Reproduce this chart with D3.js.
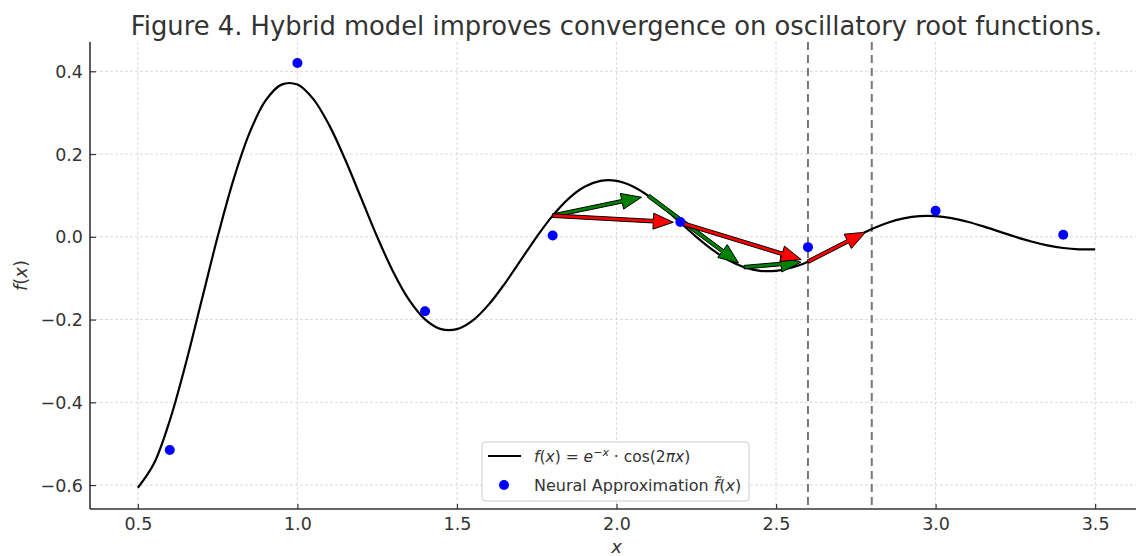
<!DOCTYPE html>
<html>
<head>
<meta charset="utf-8">
<script src="https://cdn.jsdelivr.net/npm/d3@7"></script>
<style>
  body { margin: 0; background: #fff; }
  svg { display: block; overflow: hidden; font-family: "DejaVu Sans", sans-serif; }
  .grid line { stroke: #d0d0d0; stroke-width: 0.8; stroke-dasharray: 3,2; }
  .domain { stroke: #333; stroke-width: 1.6; }
  .tick line { stroke: #333; stroke-width: 1.2; }
</style>
</head>
<body>
<div id="chart"></div>
<script>
// curve f(x) = e^-x * cos(2 pi x), sampled every 0.05
var curveX = [0.50,0.55,0.60,0.65,0.70,0.75,0.80,0.85,0.90,0.95,1.00,1.05,1.10,1.15,1.20,1.25,1.30,1.35,1.40,1.45,
  1.50,1.55,1.60,1.65,1.70,1.75,1.80,1.85,1.90,1.95,2.00,2.05,2.10,2.15,2.20,2.25,2.30,2.35,2.40,2.45,
  2.50,2.55,2.60,2.65,2.70,2.75,2.80,2.85,2.90,2.95,3.00,3.05,3.10,3.15,3.20,3.25,3.30,3.35,3.40,3.45,3.50];
var curveY = [-0.6065,-0.5487,-0.4440,-0.3069,-0.1535,0.0000,0.1389,0.2512,0.3289,0.3678,0.3679,0.3328,0.2693,0.1861,0.0931,0.0000,-0.0842,-0.1524,-0.1995,-0.2231,
  -0.2231,-0.2019,-0.1633,-0.1129,-0.0565,0.0000,0.0511,0.0924,0.1210,0.1353,0.1353,0.1224,0.0991,0.0685,0.0342,0.0000,-0.0310,-0.0561,-0.0734,-0.0821,
  -0.0821,-0.0743,-0.0601,-0.0415,-0.0208,0.0000,0.0188,0.0340,0.0445,0.0498,0.0498,0.0450,0.0364,0.0252,0.0126,0.0000,-0.0114,-0.0206,-0.0270,-0.0302,-0.0302];

// neural approximation points
var nnX = [0.6, 1.0, 1.4, 1.8, 2.2, 2.6, 3.0, 3.4];
var nnY = [-0.515, 0.42, -0.18, 0.003, 0.036, -0.025, 0.063, 0.005];

// iteration paths
var greenX = [1.8, 2.1, 2.4, 2.6];
var greenY = [0.0511, 0.0991, -0.0734, -0.0601];
var redX = [1.8, 2.2, 2.6, 2.8];
var redY = [0.0511, 0.0342, -0.0601, 0.0188];

var vlines = [2.6, 2.8];

var xTicks = [0.5, 1.0, 1.5, 2.0, 2.5, 3.0, 3.5];
var yTicks = [-0.6, -0.4, -0.2, 0.0, 0.2, 0.4];

var width = 1136, height = 556;
var svg = d3.select("#chart").append("svg")
  .attr("width", width).attr("height", height);

var mLeft = 90, mTop = 42, mRight = 1143, mBottom = 509;
var x = d3.scaleLinear().domain([0.35, 3.65]).range([mLeft, mRight]);
var y = d3.scaleLinear().domain([-0.6578, 0.4708]).range([mBottom, mTop]);

// grid
var grid = svg.append("g").attr("class", "grid");
grid.selectAll(".gx").data(xTicks).enter().append("line")
  .attr("x1", d => x(d)).attr("x2", d => x(d)).attr("y1", mTop).attr("y2", mBottom);
grid.selectAll(".gy").data(yTicks).enter().append("line")
  .attr("x1", mLeft).attr("x2", mRight).attr("y1", d => y(d)).attr("y2", d => y(d));

// axes (ticks point inward, labels placed by padding)
var xAxis = svg.append("g").attr("transform", "translate(0," + mBottom + ")")
  .call(d3.axisBottom(x).tickValues(xTicks).tickFormat(d3.format(".1f")).tickSizeInner(-5).tickSizeOuter(0).tickPadding(9));
xAxis.select(".domain").attr("d", "M" + mLeft + ",0H" + mRight);
var yAxis = svg.append("g").attr("transform", "translate(" + mLeft + ",0)")
  .call(d3.axisLeft(y).tickValues(yTicks).tickSizeInner(-6).tickSizeOuter(0).tickPadding(7)
    .tickFormat(d => d3.format(".1f")(d).replace("-", "\u2212")));
yAxis.select(".domain").attr("d", "M0," + mTop + "V" + mBottom);
[xAxis, yAxis].forEach(function (a) {
  a.attr("font-size", 17.5).attr("font-family", "DejaVu Sans");
  a.selectAll(".tick text").attr("fill", "#333");
});
xAxis.selectAll(".tick text").attr("dy", "0.71em");
yAxis.selectAll(".tick text").attr("dy", "0.35em");

// dashed vertical lines
svg.selectAll(".vline").data(vlines).enter().append("line")
  .attr("x1", d => x(d)).attr("x2", d => x(d)).attr("y1", mTop).attr("y2", mBottom)
  .attr("stroke", "#777").attr("stroke-width", 2).attr("stroke-dasharray", "8,5");

// curve
var line = d3.line().x(d => x(d[0])).y(d => y(d[1])).curve(d3.curveCatmullRom);
svg.append("path").datum(d3.zip(curveX, curveY))
  .attr("d", line).attr("fill", "none").attr("stroke", "#000").attr("stroke-width", 2.2);

// arrows drawn in pixel space
function arrowPoly(x0, y0, x1, y1) {
  var dx = x1 - x0, dy = y1 - y0, len = Math.sqrt(dx * dx + dy * dy);
  var ux = dx / len, uy = dy / len, nx = -uy, ny = ux;
  var L = len - 7, hl = 20, hw = 8, sw = 1.8;
  var bx = x0 + ux * (L - hl), by = y0 + uy * (L - hl);
  var tx = x0 + ux * L, ty = y0 + uy * L;
  var p = [
    [x0 + nx * sw, y0 + ny * sw], [bx + nx * sw, by + ny * sw], [bx + nx * hw, by + ny * hw],
    [tx, ty],
    [bx - nx * hw, by - ny * hw], [bx - nx * sw, by - ny * sw], [x0 - nx * sw, y0 - ny * sw]
  ];
  return p.map(q => q.join(",")).join(" ");
}
function drawArrows(xs, ys, color) {
  var segs = d3.range(xs.length - 1).map(i => [xs[i], ys[i], xs[i + 1], ys[i + 1]]);
  svg.append("g").selectAll("polygon").data(segs).enter().append("polygon")
    .attr("points", d => arrowPoly(x(d[0]), y(d[1]), x(d[2]), y(d[3])))
    .attr("fill", color).attr("stroke", "#000").attr("stroke-width", 1).attr("stroke-linejoin", "miter");
}
drawArrows(greenX, greenY, "#008000");
drawArrows(redX, redY, "#ff0000");

// neural points
svg.selectAll(".nn").data(d3.zip(nnX, nnY)).enter().append("circle")
  .attr("cx", d => x(d[0])).attr("cy", d => y(d[1])).attr("r", 5).attr("fill", "#0000ff");

// title and labels
svg.append("text").attr("x", (mLeft + mRight) / 2).attr("y", 35).attr("text-anchor", "middle")
  .attr("font-size", 25.8).attr("fill", "#333")
  .text("Figure 4. Hybrid model improves convergence on oscillatory root functions.");
svg.append("text").attr("x", (mLeft + mRight) / 2).attr("y", 553).attr("text-anchor", "middle")
  .attr("font-size", 18).attr("font-style", "italic").attr("fill", "#333").text("x");
svg.append("text").attr("transform", "translate(27," + ((mTop + mBottom) / 2) + ") rotate(-90)")
  .attr("text-anchor", "middle").attr("font-size", 18).attr("fill", "#333")
  .html('<tspan font-style="italic">f</tspan>(<tspan font-style="italic">x</tspan>)');

// legend
var lg = svg.append("g").attr("transform", "translate(482,442)");
lg.append("rect").attr("width", 267).attr("height", 59).attr("rx", 3)
  .attr("fill", "#fff").attr("fill-opacity", 0.85).attr("stroke", "#ccc");
lg.append("line").attr("x1", 6).attr("x2", 39).attr("y1", 14).attr("y2", 14)
  .attr("stroke", "#000").attr("stroke-width", 2.2);
lg.append("circle").attr("cx", 22).attr("cy", 43).attr("r", 5).attr("fill", "#0000ff");
lg.append("text").attr("x", 52).attr("y", 20).attr("font-size", 15.5).attr("fill", "#333")
  .html('<tspan font-style="italic">f</tspan>(<tspan font-style="italic">x</tspan>) = <tspan font-style="italic">e</tspan><tspan dy="-6" font-size="11">\u2212<tspan font-style="italic">x</tspan></tspan><tspan dy="6"> \u00b7 cos(2</tspan><tspan font-style="italic">\u03c0x</tspan>)');
lg.append("text").attr("x", 52).attr("y", 49).attr("font-size", 16).attr("fill", "#333")
  .html('Neural Approximation <tspan font-style="italic">f\u0303</tspan>(<tspan font-style="italic">x</tspan>)');
</script>
</body>
</html>
